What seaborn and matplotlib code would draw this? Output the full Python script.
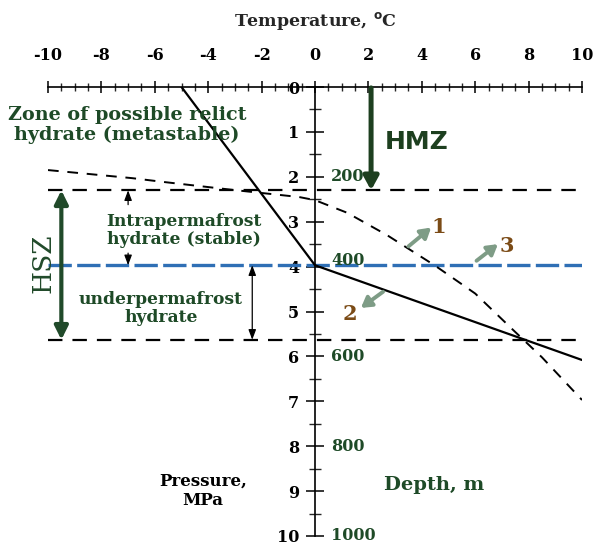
import numpy as np
import pandas as pd
import seaborn as sns
import matplotlib.pyplot as plt
from matplotlib.ticker import MultipleLocator, FixedLocator

# ---- values ----
temp_ticks = [-10, -8, -6, -4, -2, 0, 2, 4, 6, 8, 10]
pressure_ticks = [0, 1, 2, 3, 4, 5, 6, 7, 8, 9, 10]
depth_labels = [200, 400, 600, 800, 1000]

# hydrate phase boundary (solid line)
boundary_T = [-5.0, 0.0, 10.0]
boundary_P = [0.0, 3.97, 6.08]

# temperature profile (dashed curve)
profile_T = [-10.0, -6.85, -5.6, -3.1, -0.6, 0.0, 1.2, 2.7, 4.5, 6.0, 7.4, 8.5, 10.0]
profile_P = [1.85, 2.03, 2.12, 2.29, 2.45, 2.52, 2.80, 3.30, 3.98, 4.60, 5.40, 6.02, 6.97]

hmz_base = 2.30          # base of hydrate metastability zone
permafrost_base = 3.97   # base of permafrost
hsz_base = 5.63          # base of hydrate stability zone

DARK_GREEN = "#1e4a27"
ARROW_GREEN = "#214a2a"
BROWN = "#7b4b16"
BLUE = "#2f6fb5"

sns.set_theme(style="white")
plt.rcParams["font.family"] = ["DejaVu Serif"]
plt.rcParams["font.weight"] = "bold"
plt.rcParams["axes.unicode_minus"] = False

fig = plt.figure(figsize=(5.93, 5.48), dpi=100)
ax = fig.add_axes([48 / 593, 12 / 548, 534 / 593, 449 / 548])
ax.set_xlim(-10, 10)
ax.set_ylim(10, 0)
ax.set_facecolor("white")

# axes: temperature scale along the top, pressure scale through T = 0
for s in ["bottom", "right"]:
    ax.spines[s].set_visible(False)
ax.spines["left"].set_position(("data", 0))
for s in ["top", "left"]:
    ax.spines[s].set_color("black")
    ax.spines[s].set_linewidth(1.2)

ax.xaxis.tick_top()
ax.xaxis.set_major_locator(FixedLocator(temp_ticks))
ax.xaxis.set_minor_locator(MultipleLocator(0.5))
ax.set_xticklabels([str(t) for t in temp_ticks])
ax.tick_params(axis="x", which="major", direction="inout", length=9, width=1.1,
               pad=12, labelsize=11.5, colors="black")
ax.tick_params(axis="x", which="minor", direction="inout", length=6, width=1.0,
               top=True, bottom=False)

ax.yaxis.set_major_locator(FixedLocator(pressure_ticks))
ax.yaxis.set_minor_locator(MultipleLocator(0.5))
ax.set_yticklabels([str(p) for p in pressure_ticks])
ax.tick_params(axis="y", which="major", direction="inout", length=13, width=1.1,
               pad=5, labelsize=11.5, colors="black", left=True)
ax.tick_params(axis="y", which="minor", direction="inout", length=8, width=1.0,
               left=True, right=False)
ax.grid(False)

ax.text(0.5, 1.148, "Temperature, $^{\\mathbf{o}}$C", transform=ax.transAxes,
        ha="center", va="center", fontsize=12.5, fontweight="bold")

# horizontal levels
ax.hlines([hmz_base, hsz_base], -10, 10, colors="black", lw=1.6,
          linestyles=[(0, (6.5, 4.5))])
ax.hlines(permafrost_base, -10, 10, colors=BLUE, lw=2.4,
          linestyles=[(0, (7, 1.6))])

# phase boundary and temperature profile
boundary = pd.DataFrame({"T": boundary_T, "P": boundary_P})
profile = pd.DataFrame({"T": profile_T, "P": profile_P})
sns.lineplot(data=boundary, x="T", y="P", sort=False, color="black", lw=1.6, ax=ax)
sns.lineplot(data=profile, x="T", y="P", sort=False, color="black", lw=1.4,
             linestyle=(0, (5.5, 4.5)), ax=ax)
ax.set_xlabel("")
ax.set_ylabel("")

# depth scale
for d in depth_labels:
    y = d / 100 - (0.14 if d == 400 else 0.0)
    ax.text(0.6, y, str(d), color=DARK_GREEN, fontsize=11.5, ha="left", va="center")

# zone arrows
ax.annotate("", xy=(2.1, hmz_base), xytext=(2.1, 0.02),
            arrowprops=dict(arrowstyle="-|>,head_width=0.22,head_length=0.4",
                            color="#1d3f1f", lw=3.6, mutation_scale=20,
                            shrinkA=0, shrinkB=0))
ax.annotate("", xy=(-9.5, hmz_base), xytext=(-9.5, hsz_base),
            arrowprops=dict(arrowstyle="<|-|>,head_width=0.2,head_length=0.4",
                            color=ARROW_GREEN, lw=3.0, mutation_scale=20,
                            shrinkA=0, shrinkB=0))
ax.annotate("", xy=(-7.0, hmz_base), xytext=(-7.0, 2.62),
            arrowprops=dict(arrowstyle="-|>,head_width=0.15,head_length=0.4",
                            color="black", lw=0.9, mutation_scale=15,
                            shrinkA=0, shrinkB=0))
ax.annotate("", xy=(-7.0, permafrost_base), xytext=(-7.0, 3.7),
            arrowprops=dict(arrowstyle="-|>,head_width=0.15,head_length=0.4",
                            color="black", lw=0.9, mutation_scale=15,
                            shrinkA=0, shrinkB=0))
ax.annotate("", xy=(-2.35, permafrost_base), xytext=(-2.35, hsz_base),
            arrowprops=dict(arrowstyle="<|-|>,head_width=0.15,head_length=0.4",
                            color="black", lw=0.9, mutation_scale=15,
                            shrinkA=0, shrinkB=0))

# numbered curve pointers
pointer_kw = dict(arrowstyle="-|>,head_width=0.3,head_length=0.5", color="#7e9c86",
                  lw=2.8, mutation_scale=12, shrinkA=0, shrinkB=0)
ax.annotate("", xy=(4.35, 3.13), xytext=(3.5, 3.55), arrowprops=pointer_kw)
ax.annotate("1", xy=(4.62, 3.12), color=BROWN, fontsize=15, ha="center", va="center")
ax.annotate("", xy=(6.85, 3.5), xytext=(6.05, 3.87), arrowprops=pointer_kw)
ax.annotate("3", xy=(7.2, 3.55), color=BROWN, fontsize=15, ha="center", va="center")
ax.annotate("", xy=(1.72, 4.92), xytext=(2.55, 4.56), arrowprops=pointer_kw)
ax.annotate("2", xy=(1.3, 5.05), color=BROWN, fontsize=15, ha="center", va="center")

# zone labels
ax.text(-7.04, 0.85, "Zone of possible relict\nhydrate (metastable)", color=DARK_GREEN,
        fontsize=13.8, ha="center", va="center", linespacing=1.15)
ax.text(-4.9, 3.2, "Intrapermafrost\nhydrate (stable)", color=DARK_GREEN,
        fontsize=12.3, ha="center", va="center", linespacing=1.1)
ax.text(-5.77, 4.93, "underpermafrost\nhydrate", color=DARK_GREEN,
        fontsize=12.3, ha="center", va="center", linespacing=1.1)
ax.text(-10.2, 3.93, "HSZ", color=ARROW_GREEN, fontsize=19, fontweight="normal",
        rotation=90, ha="center", va="center", clip_on=False)
ax.text(3.8, 1.23, "HMZ", color="#1d3f1f", fontsize=18, fontweight="bold",
        family="DejaVu Sans", ha="center", va="center")
ax.text(-4.2, 9.0, "Pressure,\nMPa", color="black", fontsize=12,
        ha="center", va="center", linespacing=1.2)
ax.text(4.45, 8.86, "Depth, m", color=DARK_GREEN, fontsize=14,
        ha="center", va="center")

fig.savefig("out.png", dpi=100, facecolor="white")
